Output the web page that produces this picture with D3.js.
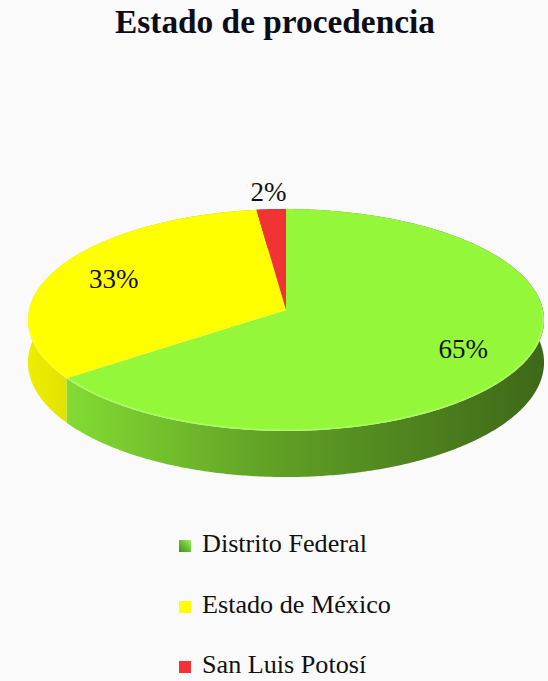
<!DOCTYPE html>
<html>
<head>
<meta charset="utf-8">
<script src="https://cdn.jsdelivr.net/npm/d3@7"></script>
<style>
  html, body { margin: 0; padding: 0; background: #fafafa; }
  svg { display: block; }
</style>
</head>
<body>
<script>
// Chart data
const title = "Estado de procedencia";
const categories = ["Distrito Federal", "Estado de México", "San Luis Potosí"];
const values = [65, 33, 2];
const sliceColors = ["#94f73a", "#ffff00", "#f23333"];
const valueLabels = ["65%", "33%", "2%"];

const W = 548, H = 681;
const svg = d3.select("body").append("svg").attr("width", W).attr("height", H);
svg.append("rect").attr("width", W).attr("height", H).attr("fill", "#fafafa");
const defs = svg.append("defs");

// Perspective view of a flat disc: centre, half-width, half-depth, wall height, perspective strength
const CX = 286, CY = 310, A = 257, B = 110, D = 42, P = 0.09;
function proj(theta, r, h) {
  const u = r * Math.sin(theta), w = -r * Math.cos(theta);
  const s = 1 / (1 - P * w);
  return [CX + A * u * s, CY + (B * w + D * h) * s];
}

const pie = d3.pie().sort(null).value(d => d);
const arcs = pie(values);
const line = d3.line().curve(d3.curveLinear);

function arcPoints(a0, a1, r, h) {
  const n = Math.max(2, Math.ceil(Math.abs(a1 - a0) / 0.01));
  return d3.range(n + 1).map(i => proj(a0 + (a1 - a0) * i / n, r, h));
}

// Side shading: lighter toward the left, darker toward the right
arcs.forEach((a, i) => {
  const base = d3.rgb(sliceColors[i]);
  const g = defs.append("linearGradient")
    .attr("id", "side" + i)
    .attr("gradientUnits", "userSpaceOnUse")
    .attr("x1", CX - A).attr("x2", CX + A).attr("y1", 0).attr("y2", 0);
  [[0, 0.93], [0.45, 0.66], [1, 0.42]].forEach(([o, k]) => {
    g.append("stop").attr("offset", o)
      .attr("stop-color", d3.rgb(base.r * k, base.g * k, base.b * k).formatHex());
  });
});

// Outer walls
const walls = svg.append("g");
arcs.forEach((a, i) => {
  const pts = arcPoints(a.startAngle, a.endAngle, 1, 0)
    .concat(arcPoints(a.endAngle, a.startAngle, 1, 1));
  walls.append("path").attr("d", line(pts) + "Z").attr("fill", `url(#side${i})`);
});

// Top faces
const tops = svg.append("g");
arcs.forEach((a, i) => {
  const pts = [proj(0, 0, 0)].concat(arcPoints(a.startAngle, a.endAngle, 1, 0));
  tops.append("path").attr("d", line(pts) + "Z").attr("fill", sliceColors[i]);
});

// Bright rim along the front edge of the top
arcs.forEach((a, i) => {
  const s = Math.max(a.startAngle, Math.PI / 2), e = Math.min(a.endAngle, 3 * Math.PI / 2);
  if (e <= s) return;
  const base = d3.hsl(sliceColors[i]);
  tops.append("path")
    .attr("d", line(arcPoints(s, e, 0.995, 0)))
    .attr("fill", "none")
    .attr("stroke", base.brighter(0.5).formatHex())
    .attr("stroke-opacity", 0.7)
    .attr("stroke-width", 1.6);
});

// Value labels
const serif = "'Liberation Serif', 'DejaVu Serif', serif";
svg.append("g").selectAll("text").data(arcs).join("text")
  .attr("transform", (a) => {
    const mid = (a.startAngle + a.endAngle) / 2;
    const r = a.data < 5 ? 1.2 : 0.75;
    const [x, y] = proj(mid, r, 0);
    return `translate(${x},${y})`;
  })
  .attr("text-anchor", "middle")
  .attr("dy", "0.36em")
  .attr("font-family", serif)
  .attr("font-size", 27)
  .attr("fill", "#111")
  .text((a, i) => valueLabels[i]);

// Title, sized to its line width
const t = svg.append("text")
  .attr("x", 275).attr("y", 33)
  .attr("text-anchor", "middle")
  .attr("font-family", serif)
  .attr("font-weight", "bold")
  .attr("font-size", 26)
  .attr("fill", "#0d0d1a")
  .text(title);
const tw = t.node().getComputedTextLength();
t.attr("font-size", 26 * 320 / tw);

// Legend
const legY = [552, 613, 673];
const markerGrad = defs.append("linearGradient").attr("id", "mk0")
  .attr("x1", 0).attr("y1", 1).attr("x2", 1).attr("y2", 0);
markerGrad.append("stop").attr("offset", 0).attr("stop-color", "#3f8f1f");
markerGrad.append("stop").attr("offset", 0.55).attr("stop-color", "#6fc23a");
markerGrad.append("stop").attr("offset", 1).attr("stop-color", "#a6ef6a");

const leg = svg.append("g");
categories.forEach((c, i) => {
  leg.append("rect")
    .attr("x", 179).attr("y", legY[i] - 12)
    .attr("width", 12).attr("height", 12)
    .attr("fill", i === 0 ? "url(#mk0)" : sliceColors[i]);
  leg.append("text")
    .attr("class", "legtext")
    .attr("x", 202).attr("y", legY[i])
    .attr("font-family", serif)
    .attr("font-size", 20)
    .attr("fill", "#111")
    .text(c);
});
const first = leg.select(".legtext").node().getComputedTextLength();
leg.selectAll(".legtext").attr("font-size", 20 * 165 / first);
</script>
</body>
</html>
